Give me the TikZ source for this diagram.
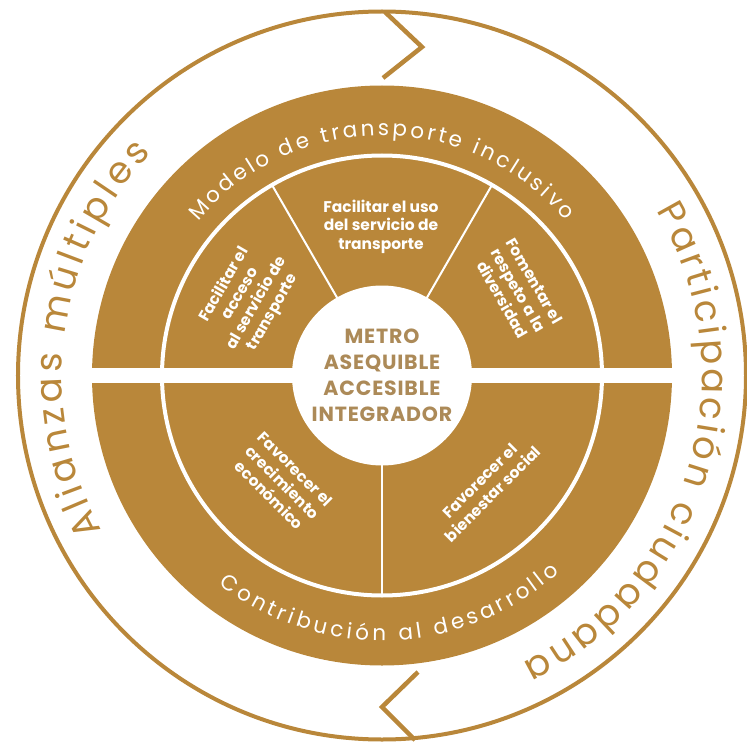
\documentclass[tikz,border=0pt]{standalone}
\usepackage{fontspec}
\setmainfont{Poppins}
\usetikzlibrary{decorations.text}
\definecolor{gold}{RGB}{185,135,58}
\definecolor{centertext}{RGB}{172,138,88}
\begin{document}
\begin{tikzpicture}[x=1pt,y=1pt,
  sector/.style={text=white, font=\bfseries\fontsize{15.5}{18.5}\selectfont, align=center, inner sep=0pt},
  hub/.style={text=centertext, font=\bfseries\fontsize{20.5}{26}\selectfont\addfontfeature{LetterSpace=4}, align=center, inner sep=0pt},
  ringline/.style={draw=gold, line width=4pt},
  chevron/.style={draw=gold, line width=4.5pt, line join=miter, line cap=butt},
  divider/.style={draw=white, line width=2pt},
  arctext/.style={decorate, decoration={text along path, text align=fit to path, text color=#1}}
]
\useasboundingbox (-382,-369.5) rectangle (365,375.5);

% outer ring
\draw[ringline] (0,0) circle[radius=364];
% chevrons
\coordinate (t1) at (3,363.5);
\coordinate (t2) at (40,328.5);
\coordinate (t3) at (1,297.5);
\coordinate (b1) at (36,-296.5);
\coordinate (b2) at (0,-331.5);
\coordinate (b3) at (33,-364.5);
\draw[chevron] (t1) -- (t2) -- (t3);
\draw[chevron] (b1) -- (b2) -- (b3);

% brown disk
\fill[gold] (0,0) circle[radius=290];
\fill[white] (-296,-7.5) rectangle (296,7.5);
\draw[white, line width=4pt] (0,0) circle[radius=220];
\draw[divider] (60:88) -- (60:220);
\draw[divider] (120:88) -- (120:220);
\draw[divider] (270:88) -- (270:220);
\fill[white] (0,0) circle[radius=90];

% arc texts inside the disk
\path[arctext=white, decoration={text={|\fontsize{21.5}{21.5}\selectfont|Modelo de transporte inclusivo}}]
  (140:240) arc[start angle=140, end angle=40, radius=240];
\path[arctext=white, decoration={text={|\fontsize{21.5}{21.5}\selectfont|Contribución al desarrollo}}]
  (232:265) arc[start angle=232, end angle=312, radius=265];

% outer arc texts
\path[arctext=gold, decoration={text={|\fontsize{37}{37}\selectfont|Alianzas múltiples}}]
  (209:320) arc[start angle=209, end angle=136, radius=320];
\path[arctext=gold, decoration={text={|\fontsize{37}{37}\selectfont|Participación ciudadana}}]
  (31:320) arc[start angle=31, end angle=-64, radius=320];

% sector texts
\node[sector, rotate=60] (tl) at (150:154) {Facilitar el\\acceso\\al servicio de\\transporte};
\node[sector] (tm) at (-1,149) {Facilitar el uso\\del servicio de\\transporte};
\node[sector, rotate=-60] (tr) at (32:161) {Fomentar el\\respeto a la\\diversidad};
\node[sector, rotate=-45] (bl) at (227:146) {Favorecer el\\crecimiento\\económico};
\node[sector, rotate=45] (br) at (-47:153) {Favorecer el\\bienestar social};
\node[hub] (hub) at (0,0) {METRO\\ASEQUIBLE\\ACCESIBLE\\INTEGRADOR};
\end{tikzpicture}
\end{document}
